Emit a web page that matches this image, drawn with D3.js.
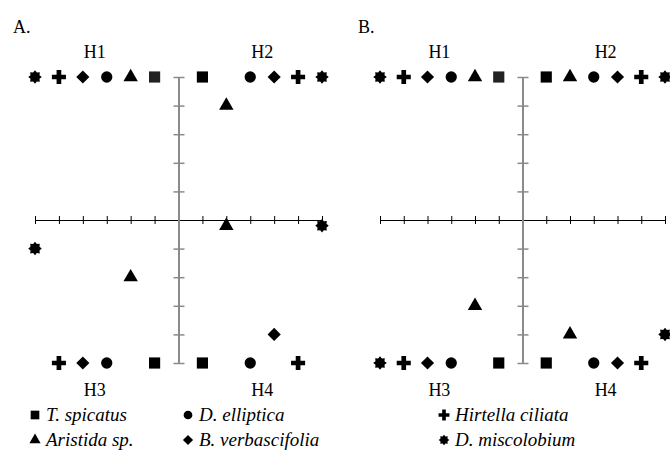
<!DOCTYPE html>
<html>
<head>
<meta charset="utf-8">
<script src="https://cdn.jsdelivr.net/npm/d3@7"></script>
<style>
  body { margin: 0; background: #fff; }
  svg text { font-family: "Liberation Serif", "DejaVu Serif", "Times New Roman", Times, serif; }
</style>
</head>
<body>
<svg width="670" height="453"></svg>
<script>
const species = ["T. spicatus", "Aristida sp.", "D. elliptica", "B. verbascifolia", "Hirtella ciliata", "D. miscolobium"];
const shapes = ["square", "triangle", "circle", "diamond", "cross", "star"];
const quadrants = ["H1", "H2", "H3", "H4"];

// one row per species, values for H1..H4
const panelAx = [
  [-1, 1, -1, 1],
  [-2, 2, 2, -2],
  [-3, 3, -3, 3],
  [-4, 4, -4, 4],
  [-5, 5, -5, 5],
  [-6, 6, 6, -6]
];
const panelAy = [
  [5, 5, -5, -5],
  [5, 4, -0.2, -2],
  [5, 5, -5, -5],
  [5, 5, -5, -4],
  [5, 5, -5, -5],
  [5, 5, -0.2, -1]
];
const panelBx = [
  [-1, 1, -1, 1],
  [-2, 2, -2, 2],
  [-3, 3, -3, 3],
  [-4, 4, -4, 4],
  [-5, 5, -5, 5],
  [-6, 6, -6, 6]
];
const panelBy = [
  [5, 5, -5, -5],
  [5, 5, -3, -4],
  [5, 5, -5, -5],
  [5, 5, -5, -5],
  [5, 5, -5, -5],
  [5, 5, -5, -4]
];

const svg = d3.select("svg");

// 8 point burst for D. miscolobium
const starSymbol = {
  draw(ctx, size) {
    const r = Math.sqrt(size / 2.4);
    const ri = r * 0.72;
    for (let i = 0; i < 16; i++) {
      const a = i * Math.PI / 8 - Math.PI / 2;
      const rr = i % 2 ? ri : r;
      if (i === 0) ctx.moveTo(rr * Math.cos(a), rr * Math.sin(a));
      else ctx.lineTo(rr * Math.cos(a), rr * Math.sin(a));
    }
    ctx.closePath();
  }
};

function symbolPath(shape, k) {
  const types = {
    square: [d3.symbolSquare, 125],
    triangle: [d3.symbolTriangle, 90],
    circle: [d3.symbolCircle, 100],
    diamond: [d3.symbolDiamond2, 110],
    cross: [d3.symbolCross, 110],
    star: [starSymbol, 110]
  };
  const [t, s] = types[shape];
  return d3.symbol(t, s * k)();
}

function drawPanel(label, xs, ys, left, right, top, bottom) {
  const x = d3.scaleLinear().domain([-6, 6]).range([left, right]);
  const y = d3.scaleLinear().domain([-5, 5]).range([bottom, top]);
  const g = svg.append("g");

  // horizontal axis
  const xAxis = g.append("g")
    .attr("transform", `translate(0,${y(0)})`)
    .call(d3.axisBottom(x).ticks(12).tickSize(8).tickSizeOuter(0).tickFormat(""));
  xAxis.select(".domain").attr("stroke", "#000").attr("stroke-width", 1.2);
  xAxis.selectAll(".tick line").attr("y1", -4).attr("y2", 4).attr("stroke", "#000");

  // vertical axis
  const yAxis = g.append("g")
    .attr("transform", `translate(${x(0)},0)`)
    .call(d3.axisLeft(y).ticks(10).tickSize(11).tickSizeOuter(0).tickFormat(""));
  yAxis.select(".domain").attr("stroke", "#8a8a8a").attr("stroke-width", 2);
  yAxis.selectAll(".tick").filter(d => d === 0).remove();
  yAxis.selectAll(".tick line").attr("x1", -5).attr("x2", 6).attr("stroke", "#8a8a8a").attr("stroke-width", 1.5);

  g.append("text").attr("x", left - 22).attr("y", 33)
    .style("font-size", "18px").text(label);

  const qpos = [[x(-3.5), 58], [x(3.5), 58], [x(-3.5), 396], [x(3.5), 396]];
  g.selectAll(".q").data(quadrants).join("text")
    .attr("x", (d, i) => qpos[i][0]).attr("y", (d, i) => qpos[i][1])
    .attr("text-anchor", "middle").style("font-size", "18px").text(d => d);

  species.forEach((sp, si) => {
    g.append("g").selectAll("path")
      .data(quadrants.map((q, qi) => ({ x: xs[si][qi], y: ys[si][qi] })))
      .join("path")
      .attr("transform", d => `translate(${x(d.x)},${y(d.y)})`)
      .attr("d", symbolPath(shapes[si], 1))
      .attr("fill", (d, i) => (si === 0 && i === 0) ? "#222" : "#000");
  });
}

drawPanel("A.", panelAx, panelAy, 35, 322, 77, 363);
drawPanel("B.", panelBx, panelBy, 380, 665, 77, 363);

// legend
const legendX = [35, 188, 444];
const legendY = [415, 440];
const legend = svg.append("g");
species.forEach((sp, i) => {
  const col = Math.floor(i / 2);
  const row = i % 2;
  const lg = legend.append("g").attr("transform", `translate(${legendX[col]},${legendY[row]})`);
  lg.append("path").attr("d", symbolPath(shapes[i], 0.6)).attr("fill", "#000");
  lg.append("text").attr("x", 11).attr("y", 6)
    .style("font-size", "19px").style("font-style", "italic").text(sp);
});
</script>
</body>
</html>
